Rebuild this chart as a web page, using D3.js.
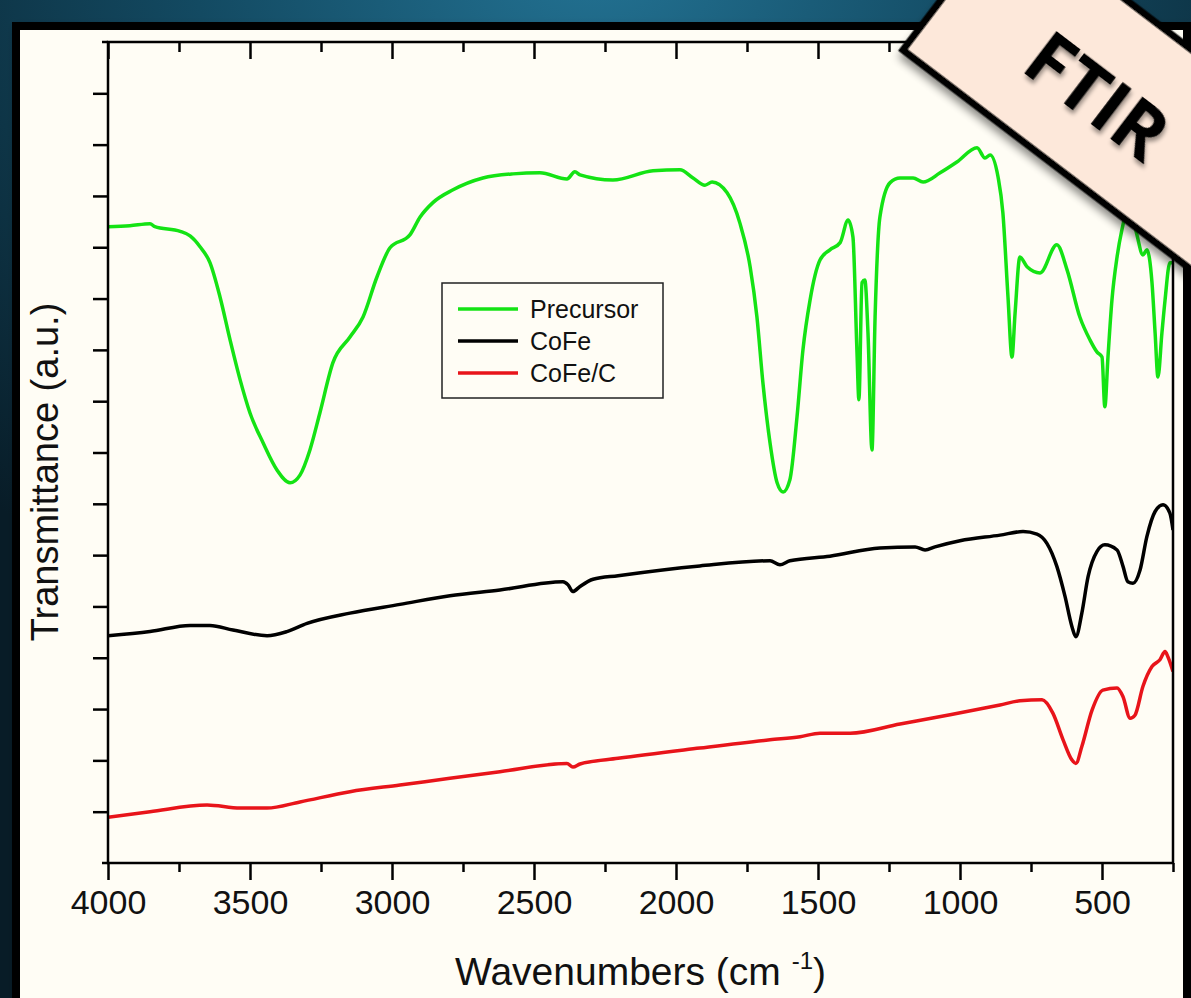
<!DOCTYPE html>
<html>
<head>
<meta charset="utf-8">
<script src="https://cdn.jsdelivr.net/npm/d3@7"></script>
<style>
  html, body { margin: 0; padding: 0; background: #0d2f40; }
  svg { display: block; }
</style>
</head>
<body>
<svg id="chart" width="1191" height="998"></svg>
<script>
// spectra: [wavenumber, transmittance (a.u.)]
var precursor = [
  [4000,12.40],[3923,12.42],[3852,12.46],[3835,12.40],[3746,12.31],[3711,12.22],[3676,12.01],
  [3641,11.70],[3606,11.04],[3570,10.19],[3535,9.42],[3500,8.77],[3454,8.19],[3405,7.66],
  [3359,7.41],[3324,7.56],[3289,8.05],[3254,8.77],[3208,9.75],[3148,10.25],[3102,10.64],
  [3053,11.42],[3007,11.99],[2937,12.24],[2901,12.59],[2856,12.87],[2785,13.12],[2680,13.35],
  [2574,13.43],[2479,13.45],[2384,13.33],[2356,13.47],[2338,13.41],[2222,13.31],[2081,13.49],
  [1986,13.51],[1940,13.35],[1898,13.21],[1873,13.27],[1820,13.06],[1775,12.47],[1739,11.62],
  [1715,10.64],[1694,9.36],[1669,8.19],[1644,7.41],[1623,7.23],[1599,7.47],[1574,8.69],
  [1553,10.00],[1528,10.97],[1493,11.75],[1458,11.95],[1422,12.09],[1394,12.53],[1377,12.20],
  [1363,10.00],[1356,9.03],[1345,11.31],[1335,11.36],[1324,10.33],[1310,8.05],[1299,10.64],
  [1282,12.59],[1246,13.26],[1211,13.35],[1165,13.35],[1130,13.27],[1070,13.45],[1011,13.66],
  [940,13.94],[912,13.74],[894,13.80],[866,13.37],[849,12.67],[831,11.03],[817,9.86],
  [806,10.72],[789,11.81],[764,11.62],[718,11.50],[659,12.05],[623,11.56],[578,10.64],
  [542,10.19],[518,9.96],[500,9.86],[490,8.89],[479,9.86],[465,10.97],[447,11.81],
  [430,12.34],[401,12.83],[377,12.24],[356,11.85],[342,11.95],[324,11.31],[313,10.33],
  [303,9.47],[289,10.33],[278,10.97],[261,11.70],[250,11.70]
];

var cofe = [
  [4000,4.43],[3852,4.51],[3711,4.63],[3641,4.63],[3560,4.54],[3440,4.43],[3370,4.51],
  [3299,4.67],[3148,4.87],[2972,5.04],[2796,5.21],[2620,5.32],[2398,5.48],[2380,5.42],
  [2363,5.29],[2338,5.39],[2292,5.53],[2204,5.60],[1916,5.79],[1669,5.89],[1634,5.81],
  [1599,5.89],[1458,5.98],[1282,6.14],[1158,6.16],[1123,6.10],[1088,6.16],[1000,6.28],
  [859,6.39],[778,6.46],[729,6.41],[694,6.23],[659,5.78],[630,5.19],[606,4.61],[592,4.41],
  [571,4.87],[549,5.58],[518,6.07],[490,6.20],[447,6.10],[426,5.78],[409,5.48],[391,5.45],
  [366,5.71],[342,6.36],[313,6.85],[285,6.98],[261,6.82],[250,6.49]
];

var cofeC = [
  [4000,0.89],[3852,1.00],[3651,1.13],[3535,1.07],[3440,1.07],[3324,1.19],[3148,1.39],
  [2972,1.52],[2796,1.65],[2620,1.78],[2384,1.94],[2363,1.87],[2338,1.93],[2204,2.04],
  [1916,2.24],[1669,2.40],[1563,2.46],[1493,2.53],[1387,2.53],[1211,2.71],[1035,2.89],
  [859,3.08],[789,3.16],[711,3.18],[673,2.92],[637,2.40],[606,2.01],[592,1.94],[571,2.27],
  [535,2.98],[497,3.37],[447,3.41],[426,3.24],[401,2.82],[384,2.88],[356,3.44],[324,3.83],
  [296,3.96],[278,4.12],[268,4.02],[250,3.73]
];

var seriesNames = ["Precursor", "CoFe", "CoFe/C"];
var seriesColors = ["#14e314", "#000000", "#e8141a"];
var xMajorTicks = [4000, 3500, 3000, 2500, 2000, 1500, 1000, 500];
var xMinorTicks = [3750, 3250, 2750, 2250, 1750, 1250, 750, 250];
var yTicks = [1, 2, 3, 4, 5, 6, 7, 8, 9, 10, 11, 12, 13, 14, 15];

function DrawChart()
{
    var svg = d3.select("#chart"),
        width = +svg.attr("width"),
        height = +svg.attr("height");

    var plotL = 108, plotR = 1173, plotT = 42, plotB = 863;

    var x = d3.scaleLinear().domain([4000, 250]).range([plotL, plotR]);
    var y = d3.scaleLinear().domain([0, 16]).range([plotB, plotT]);

    var defs = svg.append("defs");

    var bg = defs.append("radialGradient")
        .attr("id", "bg")
        .attr("cx", "0.5").attr("cy", "-0.05").attr("r", "0.75");
    bg.append("stop").attr("offset", "0").attr("stop-color", "#237394");
    bg.append("stop").attr("offset", "0.45").attr("stop-color", "#134a62");
    bg.append("stop").attr("offset", "1").attr("stop-color", "#081c27");

    var shadow = defs.append("filter").attr("id", "shadow")
        .attr("x", "-20%").attr("y", "-20%").attr("width", "140%").attr("height", "140%");
    shadow.append("feDropShadow")
        .attr("dx", 4).attr("dy", 5).attr("stdDeviation", 4)
        .attr("flood-color", "#000").attr("flood-opacity", 0.45);

    var textShadow = defs.append("filter").attr("id", "textShadow")
        .attr("x", "-20%").attr("y", "-20%").attr("width", "140%").attr("height", "140%");
    textShadow.append("feDropShadow")
        .attr("dx", 3).attr("dy", 3).attr("stdDeviation", 2)
        .attr("flood-color", "#000").attr("flood-opacity", 0.4);

    defs.append("clipPath").attr("id", "plotClip")
      .append("rect")
        .attr("x", plotL).attr("y", plotT)
        .attr("width", plotR - plotL).attr("height", plotB - plotT);

    // backdrop, frame, panel
    svg.append("rect").attr("width", width).attr("height", height).attr("fill", "url(#bg)");
    svg.append("rect")
        .attr("x", 12).attr("y", 22)
        .attr("width", width + 20).attr("height", height + 20)
        .attr("fill", "#000")
        .attr("filter", "url(#shadow)");
    svg.append("rect")
        .attr("x", 20).attr("y", 30)
        .attr("width", 1163).attr("height", height)
        .attr("fill", "#fffdf5");

    // spectra
    var line = d3.line()
        .x(function(d) { return x(d[0]); })
        .y(function(d) { return y(d[1]); })
        .curve(d3.curveMonotoneX);

    var plot = svg.append("g").attr("clip-path", "url(#plotClip)");

    [precursor, cofe, cofeC].forEach(function(data, i) {
        plot.append("path")
            .datum(data)
            .attr("fill", "none")
            .attr("stroke", seriesColors[i])
            .attr("stroke-width", 3.5)
            .attr("stroke-linejoin", "round")
            .attr("d", line);
    });

    // axes
    var bottomAxis = svg.append("g")
        .attr("transform", "translate(0," + plotB + ")")
        .call(d3.axisBottom(x).tickValues(xMajorTicks).tickSize(17).tickPadding(10)
            .tickFormat(d3.format("d")));
    bottomAxis.append("g")
        .call(d3.axisBottom(x).tickValues(xMinorTicks).tickSize(9).tickFormat(""));

    var topAxis = svg.append("g")
        .attr("transform", "translate(0," + plotT + ")")
        .call(d3.axisTop(x).tickValues(xMajorTicks).tickSize(-17).tickFormat(""));
    topAxis.append("g")
        .call(d3.axisTop(x).tickValues(xMinorTicks).tickSize(-10).tickFormat(""));

    svg.append("g")
        .attr("transform", "translate(" + plotL + ",0)")
        .call(d3.axisLeft(y).tickValues(yTicks).tickSize(15).tickFormat(""));

    svg.selectAll(".domain").remove();
    svg.selectAll(".tick line").attr("stroke", "#000").attr("stroke-width", 2.5);
    svg.selectAll(".tick text")
        .attr("fill", "#111")
        .style("font-family", "'Liberation Sans', Arial, sans-serif")
        .style("font-size", "34px");

    // frame of the plot
    svg.append("rect")
        .attr("x", plotL).attr("y", plotT)
        .attr("width", plotR - plotL).attr("height", plotB - plotT)
        .attr("fill", "none").attr("stroke", "#000").attr("stroke-width", 2.5);
    svg.append("line")
        .attr("x1", plotL - 6).attr("x2", plotL).attr("y1", plotT).attr("y2", plotT)
        .attr("stroke", "#000").attr("stroke-width", 2.5);
    svg.append("line")
        .attr("x1", plotL - 6).attr("x2", plotL).attr("y1", plotB).attr("y2", plotB)
        .attr("stroke", "#000").attr("stroke-width", 2.5);

    // axis titles
    var xTitle = svg.append("text")
        .attr("x", (plotL + plotR) / 2).attr("y", 985)
        .attr("text-anchor", "middle")
        .attr("fill", "#111")
        .style("font-family", "'Liberation Sans', Arial, sans-serif")
        .style("font-size", "39px");
    xTitle.append("tspan").text("Wavenumbers (cm ");
    xTitle.append("tspan").attr("dy", -16).style("font-size", "24px").text("-1");
    xTitle.append("tspan").attr("dy", 16).text(")");

    svg.append("text")
        .attr("transform", "translate(58,472) rotate(-90)")
        .attr("text-anchor", "middle")
        .attr("fill", "#111")
        .style("font-family", "'Liberation Sans', Arial, sans-serif")
        .style("font-size", "38px")
        .text("Transmittance (a.u.)");

    // legend
    var legend = svg.append("g");
    legend.append("rect")
        .attr("x", 442).attr("y", 283)
        .attr("width", 221).attr("height", 115)
        .attr("fill", "#fffdf5").attr("stroke", "#222").attr("stroke-width", 1.5);

    var legendRows = [309, 341, 373];
    seriesNames.forEach(function(name, i) {
        legend.append("line")
            .attr("x1", 458).attr("x2", 518)
            .attr("y1", legendRows[i]).attr("y2", legendRows[i])
            .attr("stroke", seriesColors[i]).attr("stroke-width", 3.5);
        legend.append("text")
            .attr("x", 530).attr("y", legendRows[i])
            .attr("dy", "0.35em")
            .attr("fill", "#111")
            .style("font-family", "'Liberation Sans', Arial, sans-serif")
            .style("font-size", "25px")
            .text(name);
    });

    // corner badge
    var badge = svg.append("g")
        .attr("transform", "translate(903,50) rotate(37.3)");
    badge.append("rect")
        .attr("x", 0).attr("y", -175)
        .attr("width", 600).attr("height", 175)
        .attr("fill", "#fde8da")
        .attr("stroke", "#000").attr("stroke-width", 7)
        .attr("filter", "url(#shadow)");
    badge.append("text")
        .attr("x", 104).attr("y", -55)
        .attr("fill", "#000")
        .attr("filter", "url(#textShadow)")
        .style("font-family", "'Open Sans', 'DejaVu Sans', sans-serif")
        .style("font-weight", "bold")
        .style("font-size", "74px")
        .text("FTIR");

    console.log("ftir chart made");
}

DrawChart();
</script>
</body>
</html>
